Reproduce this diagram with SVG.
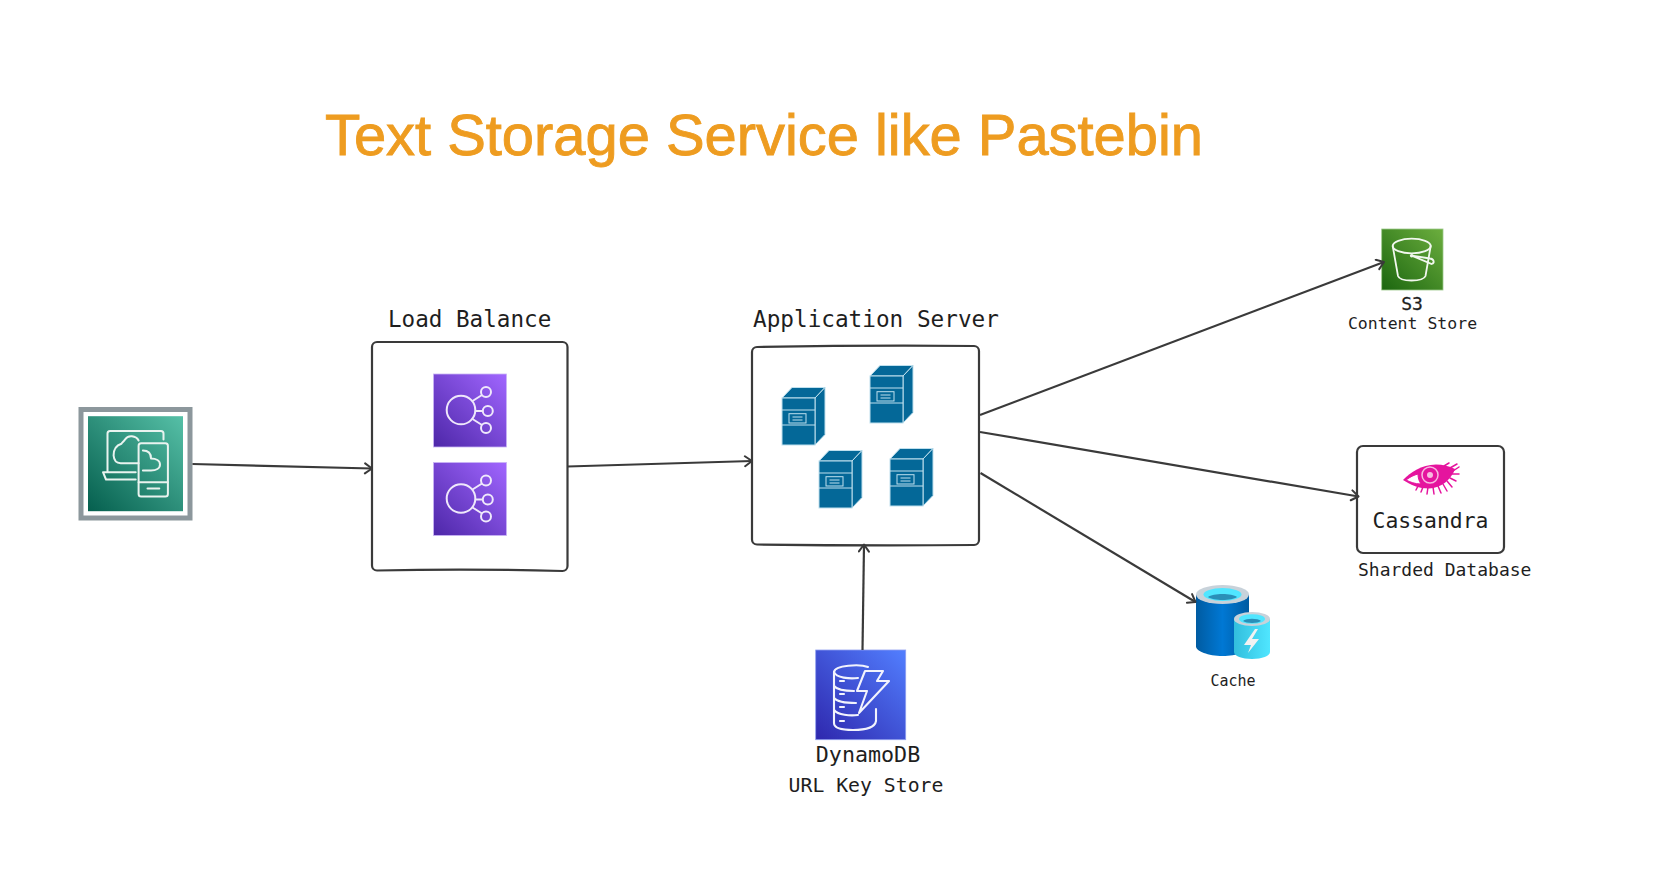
<svg xmlns="http://www.w3.org/2000/svg" xmlns:xlink="http://www.w3.org/1999/xlink" width="1664" height="872" viewBox="0 0 1664 872">
<style>
text{font-family:"DejaVu Sans Mono","Liberation Mono",monospace;fill:#1e1e1e}
.title{font-family:"Liberation Sans",Arial,sans-serif;font-size:58px;fill:#ee9c20;stroke:#ee9c20;stroke-width:.9}
.box{fill:#fff;stroke:#3a3a3a;stroke-width:2.2}
.edge{fill:none;stroke:#3a3a3a;stroke-width:2.2;marker-end:url(#arrow)}
.ln{fill:none;stroke:#e9f3ef;stroke-width:2;stroke-linejoin:round;stroke-linecap:round}
.srv{fill:#046898;stroke:#bfe0ee;stroke-width:1}
</style>
<defs>
<marker id="arrow" markerUnits="userSpaceOnUse" markerWidth="14" markerHeight="14" refX="10" refY="6" orient="auto"><path d="M3 1L10 6L3 11" fill="none" stroke="#3a3a3a" stroke-width="2" stroke-linecap="round" stroke-linejoin="round"/></marker>
<linearGradient id="gGreen" x1="0" y1="1" x2="1" y2="0"><stop offset="0" stop-color="#055f4e"/><stop offset="1" stop-color="#56c0a7"/></linearGradient>
<linearGradient id="gPurple" x1="0" y1="1" x2="1" y2="0"><stop offset="0" stop-color="#4d27a8"/><stop offset="1" stop-color="#a166ff"/></linearGradient>
<linearGradient id="gS3" x1="0" y1="1" x2="1" y2="0"><stop offset="0" stop-color="#1b660f"/><stop offset="1" stop-color="#6cae3e"/></linearGradient>
<linearGradient id="gDyn" x1="0" y1="1" x2="1" y2="0"><stop offset="0" stop-color="#2e27ad"/><stop offset="1" stop-color="#527fff"/></linearGradient>
<linearGradient id="gBig" x1="0" x2="1" y1="0" y2="0"><stop offset="0" stop-color="#005ba1"/><stop offset=".5" stop-color="#0078d4"/><stop offset="1" stop-color="#005ba1"/></linearGradient>
<linearGradient id="gSmall" x1="0" x2="1" y1="0" y2="0"><stop offset="0" stop-color="#32bedd"/><stop offset="1" stop-color="#50e6ff"/></linearGradient>
<g id="lbIcon">
<rect width="73" height="73" fill="url(#gPurple)" stroke="#c9b4f5" stroke-width=".8"/>
<g fill="none" stroke="#efe8fb" stroke-width="2">
<circle cx="27.500" cy="36" r="14.300"/><circle cx="52.500" cy="18" r="5"/><circle cx="54.300" cy="37" r="5"/><circle cx="52.500" cy="54" r="5"/>
<path d="M39 27L48.500 21M41.800 37H49.300M39 45L48.500 51"/>
</g>
</g>
<g id="server">
<path class="srv" d="M0 0L10 -10.500H43L33 0Z"/>
<path class="srv" d="M33 0L43 -10.500V36.500L33 47Z"/>
<rect class="srv" width="33" height="47"/>
<path class="srv" d="M0 12H33M0 27H33"/>
<rect x="7" y="15.700" width="17" height="9.300" fill="none" stroke="#bfe0ee" stroke-width="1"/>
<path d="M10.500 19H20.500M10.500 22H20.500" stroke="#bfe0ee" stroke-width="1"/>
</g>
</defs>

<text class="title" x="325" y="155" textLength="878" lengthAdjust="spacingAndGlyphs">Text Storage Service like Pastebin</text>

<g id="client">
<rect x="81" y="409.500" width="109" height="108.500" fill="#fff" stroke="#8c979c" stroke-width="5"/>
<rect x="88" y="416.200" width="95" height="95" fill="url(#gGreen)"/>
<g transform="translate(0 .5)">
<path class="ln" d="M135.700 471.700H107.500V433a2.500 2.500 0 0 1 2.500 -2.500H161a2.500 2.500 0 0 1 2.500 2.500V439M107.500 471.700H103L106 479H135.700"/>
<rect class="ln" x="138.600" y="442.700" width="29.300" height="53.300" rx="2.500"/>
<path class="ln" d="M138.600 481.700H167.900M147.500 488H159.300"/>
<path class="ln" d="M138.600 440C136 435 128 434 125 439C124 441 122 442 121.400 443.300C116 445 113.600 450 113.600 455C114 460 117 462.700 120.700 462.700H138.600"/>
<path class="ln" d="M142.900 450C148 450 151 453 151 458C156 458 160 460 160 464C160 468 156 470 151 470H142.900"/>
</g>
</g>

<g id="load-balance">
<path class="box" d="M377 342H562.500a5 5 0 0 1 5 5V566a5 5 0 0 1 -5 5Q470 568.500 377 570.500a5 5 0 0 1 -5 -5V347a5 5 0 0 1 5 -5Z"/>
<text x="388" y="327" font-size="22.600">Load Balance</text>
<use href="#lbIcon" xlink:href="#lbIcon" x="433.500" y="374"/>
<use href="#lbIcon" xlink:href="#lbIcon" x="433.500" y="462.500"/>
</g>

<g id="application-server">
<path class="box" d="M757 347Q870 345 974 346a5 5 0 0 1 5 5V540a5 5 0 0 1 -5 5Q870 546 757 544.500a5 5 0 0 1 -5 -5V352a5 5 0 0 1 5 -5Z"/>
<text x="753" y="327" font-size="22.700">Application Server</text>
<use href="#server" xlink:href="#server" x="782" y="398"/>
<use href="#server" xlink:href="#server" x="870" y="376"/>
<use href="#server" xlink:href="#server" x="819" y="461"/>
<use href="#server" xlink:href="#server" x="890" y="459"/>
</g>

<g id="s3">
<rect x="1381.700" y="229" width="61.300" height="61" fill="url(#gS3)" stroke="#9cc88a" stroke-width=".8"/>
<g fill="none" stroke="#f1f7ee" stroke-width="1.800" stroke-linecap="round">
<ellipse cx="1411.700" cy="246" rx="19" ry="7.300"/>
<path d="M1392.700 246L1398 276C1400 282 1423 282 1425.500 276L1430.700 246"/>
<path d="M1411.700 255.700L1431.700 264C1435 263 1434 259 1430 258.500L1412 255.700"/>
</g>
<circle cx="1411.700" cy="255.700" r="1.800" fill="#f1f7ee"/>
<text x="1412" y="310" font-size="18" text-anchor="middle" stroke="#1e1e1e" stroke-width=".3">S3</text>
<text x="1412.500" y="329" font-size="16.500" text-anchor="middle">Content Store</text>
</g>

<g id="cassandra">
<rect class="box" x="1357" y="446" width="147" height="107" rx="6"/>
<path d="M1403 480C1411 472 1421 465 1436 464.500C1443 464.500 1449 466 1455 469C1451 480 1441 488 1429 488.500C1419 488.500 1411 485 1403 480Z" fill="#e5149e"/>
<path d="M1406 480C1410 477 1414 475 1418 474C1418 478 1419 481 1421 484C1415 484 1410 482 1406 480Z" fill="#fff" stroke="#e5149e" stroke-width="1"/>
<circle cx="1430" cy="475" r="8" fill="none" stroke="#f7b9e0" stroke-width="1.500"/>
<circle cx="1430" cy="475" r="3" fill="#f7b9e0"/>
<path d="M1418 486L1416 490M1423 487L1421 492M1428 487L1427 494M1433 487L1434 494M1438 486L1441 493M1443 484L1447 491M1447 481L1452 487M1450 478L1456 481M1452 474L1459 474M1453 471L1459 467M1450 468L1457 464M1444 466L1449 463" stroke="#e5149e" stroke-width="1.500" stroke-linecap="round"/>
<text x="1430.500" y="528" font-size="21.400" text-anchor="middle">Cassandra</text>
<text x="1358" y="576" font-size="18">Sharded Database</text>
</g>

<g id="cache">
<path d="M1196 594.500V646.500C1196 651 1208 656 1222.500 656C1237 656 1249 651 1249 646.500V594.500Z" fill="url(#gBig)"/>
<ellipse cx="1222.500" cy="594.500" rx="26.500" ry="9.500" fill="#c8d2da"/>
<ellipse cx="1222.500" cy="594.500" rx="19" ry="6.500" fill="#50e6ff"/>
<path d="M1208 597C1213 593 1232 593 1237 597C1232 601 1213 601 1208 597Z" fill="#2a8fb8"/>
<path d="M1234 619V652C1234 656 1242 659 1252 659C1262 659 1270 656 1270 652V619Z" fill="url(#gSmall)"/>
<ellipse cx="1252" cy="619" rx="18" ry="7" fill="#c8d2da"/>
<ellipse cx="1252" cy="619" rx="13" ry="4.800" fill="#50e6ff"/>
<path d="M1243 621C1246 618 1258 618 1261 621C1258 623.500 1246 623.500 1243 621Z" fill="#2a8fb8"/>
<path d="M1255 629L1244 645H1251L1248 653L1259 639H1252L1258 629Z" fill="#f2f2f2"/>
<text x="1233" y="686" font-size="15" text-anchor="middle">Cache</text>
</g>

<g id="dynamodb">
<rect x="815.700" y="650" width="90" height="89.700" fill="url(#gDyn)" stroke="#8f9ff0" stroke-width=".8"/>
<g fill="none" stroke="#f2f3fd" stroke-width="2.100" stroke-linecap="round" stroke-linejoin="round">
<path d="M868 667C860 664 835 665 834 672V723C834 729 845 730 853 730C866 730 875 727 876 721V709"/>
<path d="M834 672C836 678 850 679 858 678M834 686C838 691 848 691 854 691M834 698C838 703 850 703 856 703M834 710C838 715 850 716 858 715"/>
<path d="M865 671H883L877 681H889L859 713L867 691H857Z"/>
<path d="M840 681H844M840 694H844M840 707H844M840 721H844"/>
</g>
<text x="868" y="762" font-size="21.700" text-anchor="middle">DynamoDB</text>
<text x="866" y="792" font-size="19.800" text-anchor="middle">URL Key Store</text>
</g>

<g id="connectors">
<path class="edge" d="M192.500 464L372 468.500"/>
<path class="edge" d="M567.500 466.500L752 461"/>
<path class="edge" d="M980 415L1384 262"/>
<path class="edge" d="M980 432L1358.500 496.500"/>
<path class="edge" d="M980.500 473L1195.500 602"/>
<path class="edge" d="M862.500 650L864 544.500"/>
</g>
</svg>
